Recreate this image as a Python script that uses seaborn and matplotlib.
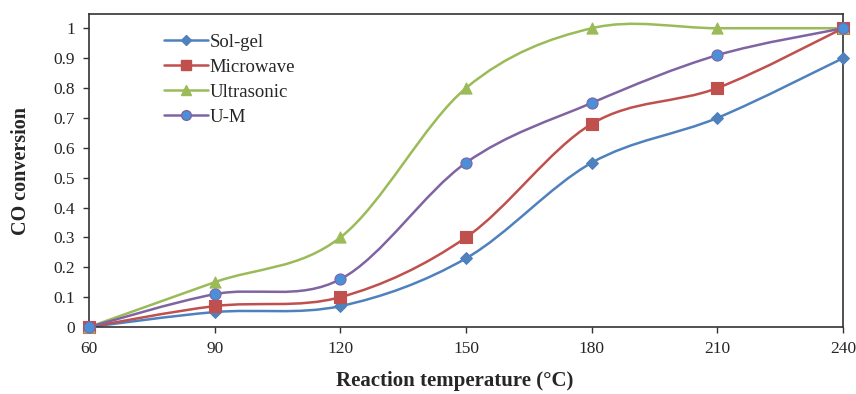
import matplotlib
matplotlib.use("Agg")
import matplotlib.pyplot as plt
from matplotlib.path import Path
from matplotlib.patches import PathPatch
from matplotlib.lines import Line2D
import numpy as np
import pandas as pd
import seaborn as sns

temperature = [60, 90, 120, 150, 180, 210, 240]
sol_gel = [0.0, 0.05, 0.07, 0.23, 0.55, 0.70, 0.90]
microwave = [0.0, 0.07, 0.10, 0.30, 0.68, 0.80, 1.0]
ultrasonic = [0.0, 0.15, 0.30, 0.80, 1.0, 1.0, 1.0]
u_m = [0.0, 0.11, 0.16, 0.55, 0.75, 0.91, 1.0]

series = ["Sol-gel", "Microwave", "Ultrasonic", "U-M"]
values = [sol_gel, microwave, ultrasonic, u_m]
line_colors = ["#4F81BD", "#C0504D", "#9BBB59", "#8064A2"]
face_colors = ["#4F81BD", "#C0504D", "#9BBB59", "#4A90D9"]
markers = ["D", "s", "^", "o"]
marker_sizes = [6, 8, 8, 8]

df = pd.DataFrame({
    "temperature": temperature * len(series),
    "conversion": sum(values, []),
    "method": np.repeat(series, len(temperature)),
})

sns.set_theme(style="white")
plt.rcParams["font.family"] = ["Liberation Serif", "DejaVu Serif"]

fig, ax = plt.subplots(figsize=(8.56, 3.94), dpi=100)
fig.subplots_adjust(left=0.104, right=0.985, bottom=0.170, top=0.964)


def smooth_path(x, y):
    # Excel-like smoothed line: Catmull-Rom converted to cubic Bezier segments
    pts = np.column_stack([x, y]).astype(float)
    verts = [pts[0]]
    codes = [Path.MOVETO]
    n = len(pts)
    for i in range(n - 1):
        p0 = pts[max(i - 1, 0)]
        p1 = pts[i]
        p2 = pts[i + 1]
        p3 = pts[min(i + 2, n - 1)]
        c1 = p1 + (p2 - p0) / 6.0
        c2 = p2 - (p3 - p1) / 6.0
        verts += [c1, c2, p2]
        codes += [Path.CURVE4] * 3
    return Path(verts, codes)


for name, color in zip(series, line_colors):
    sub = df[df["method"] == name]
    ax.add_patch(PathPatch(smooth_path(sub["temperature"], sub["conversion"]),
                           facecolor="none", edgecolor=color, lw=1.8, zorder=2))

for name, lc, fc, m, ms in zip(series, line_colors, face_colors, markers, marker_sizes):
    sub = df[df["method"] == name]
    sns.scatterplot(data=sub, x="temperature", y="conversion", ax=ax,
                    marker=m, s=ms ** 2, color=fc, edgecolor=lc,
                    linewidth=0.8, zorder=3, legend=False, clip_on=False)

ax.set_xlim(60, 240)
ax.set_ylim(0, 1.047)
ax.set_xticks(temperature)
ax.set_yticks(np.arange(0, 1.01, 0.1))
ax.set_yticklabels(["0", "0.1", "0.2", "0.3", "0.4", "0.5", "0.6", "0.7", "0.8", "0.9", "1"])
ax.tick_params(axis="both", direction="out", length=4, width=1, color="#333333",
               labelsize=12.5, pad=6, bottom=True, left=True)
for s in ax.spines.values():
    s.set_color("#333333")
    s.set_linewidth(1.2)

ax.set_xlabel("Reaction temperature (\u00b0C)", fontsize=15, fontweight="bold", labelpad=11)
ax.xaxis.set_label_coords(0.485, -0.14, transform=ax.transAxes)
ax.xaxis.label.set_va("top")
ax.set_ylabel("CO conversion", fontsize=14.5, fontweight="bold", labelpad=16)

handles = [Line2D([0], [0], color=lc, lw=1.8, marker=m, markersize=ms - 1,
                  markerfacecolor=fc, markeredgecolor=lc)
           for lc, fc, m, ms in zip(line_colors, face_colors, markers, marker_sizes)]
ax.legend(handles, series, loc="upper left", bbox_to_anchor=(0.09, 0.962),
          frameon=False, fontsize=13.5, handlelength=2.35, handletextpad=0.05,
          labelspacing=0.42, borderaxespad=0)

fig.savefig("out.png", dpi=100)
